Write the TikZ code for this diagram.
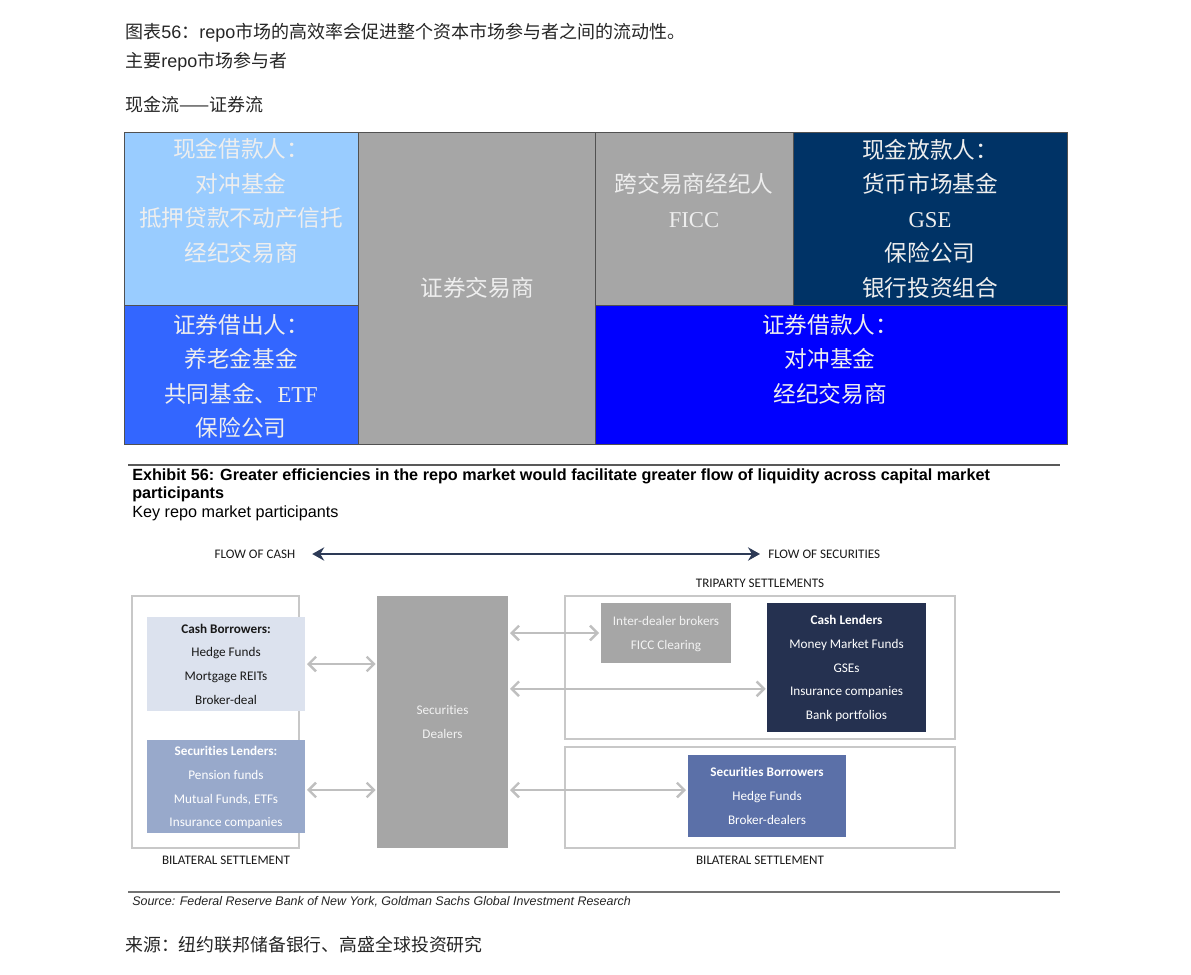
\documentclass[tikz,border=0pt]{standalone}
\usepackage{fontspec}
\setmainfont{Liberation Sans}
\newfontfamily\cjk{Noto Sans CJK SC}
\newfontfamily\carl[Ligatures=NoCommon]{Carlito}
\newfontfamily\tms{Liberation Serif}
\usetikzlibrary{arrows.meta}
\definecolor{cLB}{HTML}{99CCFF}
\definecolor{cGR}{HTML}{A6A6A6}
\definecolor{cNV}{HTML}{003366}
\definecolor{cMB}{HTML}{3366FF}
\definecolor{cBB}{HTML}{0000FF}
\definecolor{cTX}{HTML}{EEEEEE}
\definecolor{cCB}{HTML}{DCE2EE}
\definecolor{cSL}{HTML}{98A9CB}
\definecolor{cSB}{HTML}{5B70A8}
\definecolor{cCL}{HTML}{253150}
\definecolor{cOL}{HTML}{C8C8C8}
\definecolor{cAR}{HTML}{BFBFBF}
\definecolor{cFL}{HTML}{2D3A56}
\definecolor{cDK}{HTML}{262626}
\tikzset{
  wh/.style 2 args={minimum width=#1*0.75pt, minimum height=#2*0.75pt},
  cell/.style={draw=cDK!80, line width=0.6pt, inner sep=0pt, outer sep=0pt, anchor=north west},
  celltext/.style={text=cTX, align=center, inner sep=0pt, font=\cjk\fontsize{17}{25.9}\selectfont},
  hdr/.style={anchor=west, inner sep=0pt, font=\fontsize{13.5}{16}\selectfont, text=black!85},
  lbox/.style={inner sep=0pt, outer sep=0pt, anchor=north west, align=center, font=\carl\fontsize{9.9}{17.8}\selectfont, text depth=0pt},
  obox/.style={draw=cOL, line width=1.5pt, inner sep=0pt, outer sep=0pt, anchor=north west},
  small/.style={inner sep=0pt, font=\carl\fontsize{9.8}{11}\selectfont, text=black!90},
  garrow/.style={draw=cAR, line width=1.8pt, {Straight Barb[length=5.5pt,width=11pt]}-{Straight Barb[length=5.5pt,width=11pt]}},
  flow/.style={draw=cFL, line width=2pt, {Stealth[length=9pt,width=10pt,inset=3pt]}-{Stealth[length=9pt,width=10pt,inset=3pt]}},
  rulel/.style={draw=black!65, line width=0.8pt}
}
\begin{document}
\begin{tikzpicture}[x=0.75pt,y=-0.75pt]
\useasboundingbox (0,0) rectangle (1191,974);
\fill[white] (0,0) rectangle (1191,974);

% header
\node[hdr] (h1) at (125,33) {{\cjk 图表}56{\cjk ：}repo{\cjk 市场的高效率会促进整个资本市场参与者之间的流动性。}};
\node[hdr] (h2) at (125,62) {{\cjk 主要}repo{\cjk 市场参与者}};
\node[hdr] (h3) at (125,105) {\cjk 现金流——证券流};

% colour grid
\node[cell, fill=cLB, wh={234}{173}] (gcb) at (124,132) {};
\node[cell, fill=cMB, wh={234}{139}] (gsl) at (124,305) {};
\node[cell, fill=cGR, wh={237}{312}] (gsd) at (358,132) {};
\node[cell, fill=cGR, wh={198}{173}] (gid) at (595,132) {};
\node[cell, fill=cNV, wh={274}{173}] (gcl) at (793,132) {};
\node[cell, fill=cBB, wh={472}{139}] (gsb) at (595,305) {};

\node[celltext] (tcb) at (241,201) {现金借款人：\\对冲基金\\抵押贷款不动产信托\\经纪交易商};
\node[celltext] (tsl) at (241,376.5) {证券借出人：\\养老金基金\\共同基金、{\tms ETF}\\保险公司};
\node[celltext] (tsd) at (477,288) {证券交易商};
\node[celltext] (tid) at (694,200.5) {跨交易商经纪人\\{\tms FICC}};
\node[celltext] (tcl) at (930,218.5) {现金放款人：\\货币市场基金\\{\tms GSE}\\保险公司\\银行投资组合};
\node[celltext] (tsb) at (830,359) {证券借款人：\\对冲基金\\经纪交易商};

% exhibit title
\draw[rulel] (128,465) -- (1060,465);
\node[anchor=base west, inner sep=0pt, font=\bfseries\fontsize{12.15}{14}\selectfont] (e1) at (132,480) {Exhibit 56: Greater efficiencies in the repo market would facilitate greater flow of liquidity across capital market};
\node[anchor=base west, inner sep=0pt, font=\bfseries\fontsize{12.15}{14}\selectfont] (e2) at (132,498.5) {participants};
\node[anchor=base west, inner sep=0pt, font=\fontsize{12.15}{14}\selectfont] (e3) at (132,517.5) {Key repo market participants};

% flow arrow
\node[small] (fcash) at (255,554) {FLOW OF CASH};
\node[small, anchor=west] (fsec) at (768,554) {FLOW OF SECURITIES};
\draw[flow, shorten <=12.5pt, shorten >=6pt] (fcash.east) -- (fsec.west);

\node[small] (ltri) at (760,583) {TRIPARTY SETTLEMENTS};

% left bilateral
\node[obox, wh={167}{252}] (lbil) at (132,596) {};
\node[lbox, fill=cCB, wh={158}{94}, text=black!90] (cbo) at (147,617) {\textbf{Cash Borrowers:}\\Hedge Funds\\Mortgage REITs\\Broker-deal};
\node[lbox, fill=cSL, wh={158}{93}, text=white] (sle) at (147,740) {\textbf{Securities Lenders:}\\Pension funds\\Mutual Funds, ETFs\\Insurance companies};
\node[small] (lbl) at (226,860) {BILATERAL SETTLEMENT};

% dealers
\node[lbox, fill=cGR, wh={131}{252}, text=white!95!black] (sdl) at (377,596) {Securities\\Dealers};

% triparty
\node[obox, wh={390}{143}] (tri) at (565,596) {};
\node[lbox, fill=cGR, wh={130}{60}, text=white!95!black] (idl) at (601,603) {Inter-dealer brokers\\FICC Clearing};
\node[lbox, fill=cCL, wh={159}{129}, text=white] (cle) at (767,603) {\textbf{Cash Lenders}\\Money Market Funds\\GSEs\\Insurance companies\\Bank portfolios};

% right bilateral
\node[obox, wh={390}{101}] (rbil) at (565,747) {};
\node[lbox, fill=cSB, wh={158}{82}, text=white] (sbo) at (688,755) {\textbf{Securities Borrowers}\\Hedge Funds\\Broker-dealers};
\node[small] (rbl) at (760,860) {BILATERAL SETTLEMENT};

% grey arrows
\draw[garrow, shorten <=1.5pt, shorten >=1pt] (cbo.east) -- (sdl.west |- cbo.east);
\draw[garrow, shorten <=1.5pt, shorten >=1pt] ([yshift=-2.6pt]sle.east) -- ([yshift=-2.6pt]sdl.west |- sle.east);
\draw[garrow, shorten <=1.5pt, shorten >=1.5pt] (sdl.east |- idl.west) -- (idl.west);
\draw[garrow, shorten <=1.5pt, shorten >=1pt] ([yshift=-16pt]sdl.east |- cle.west) -- ([yshift=-16pt]cle.west);
\draw[garrow, shorten <=1.5pt, shorten >=1.5pt] ([yshift=4.5pt]sdl.east |- sbo.west) -- ([yshift=4.5pt]sbo.west);

% source
\draw[draw=black!55, line width=0.8pt] (128,892) -- (1060,892);
\node[anchor=west, inner sep=0pt, font=\itshape\fontsize{9.35}{11}\selectfont, text=black!85] (src) at (132,902) {Source: Federal Reserve Bank of New York, Goldman Sachs Global Investment Research};
\node[anchor=west, inner sep=0pt, font=\cjk\fontsize{13.4}{16}\selectfont, text=black!85] (srccn) at (125,945) {来源：纽约联邦储备银行、高盛全球投资研究};
\end{tikzpicture}
\end{document}
